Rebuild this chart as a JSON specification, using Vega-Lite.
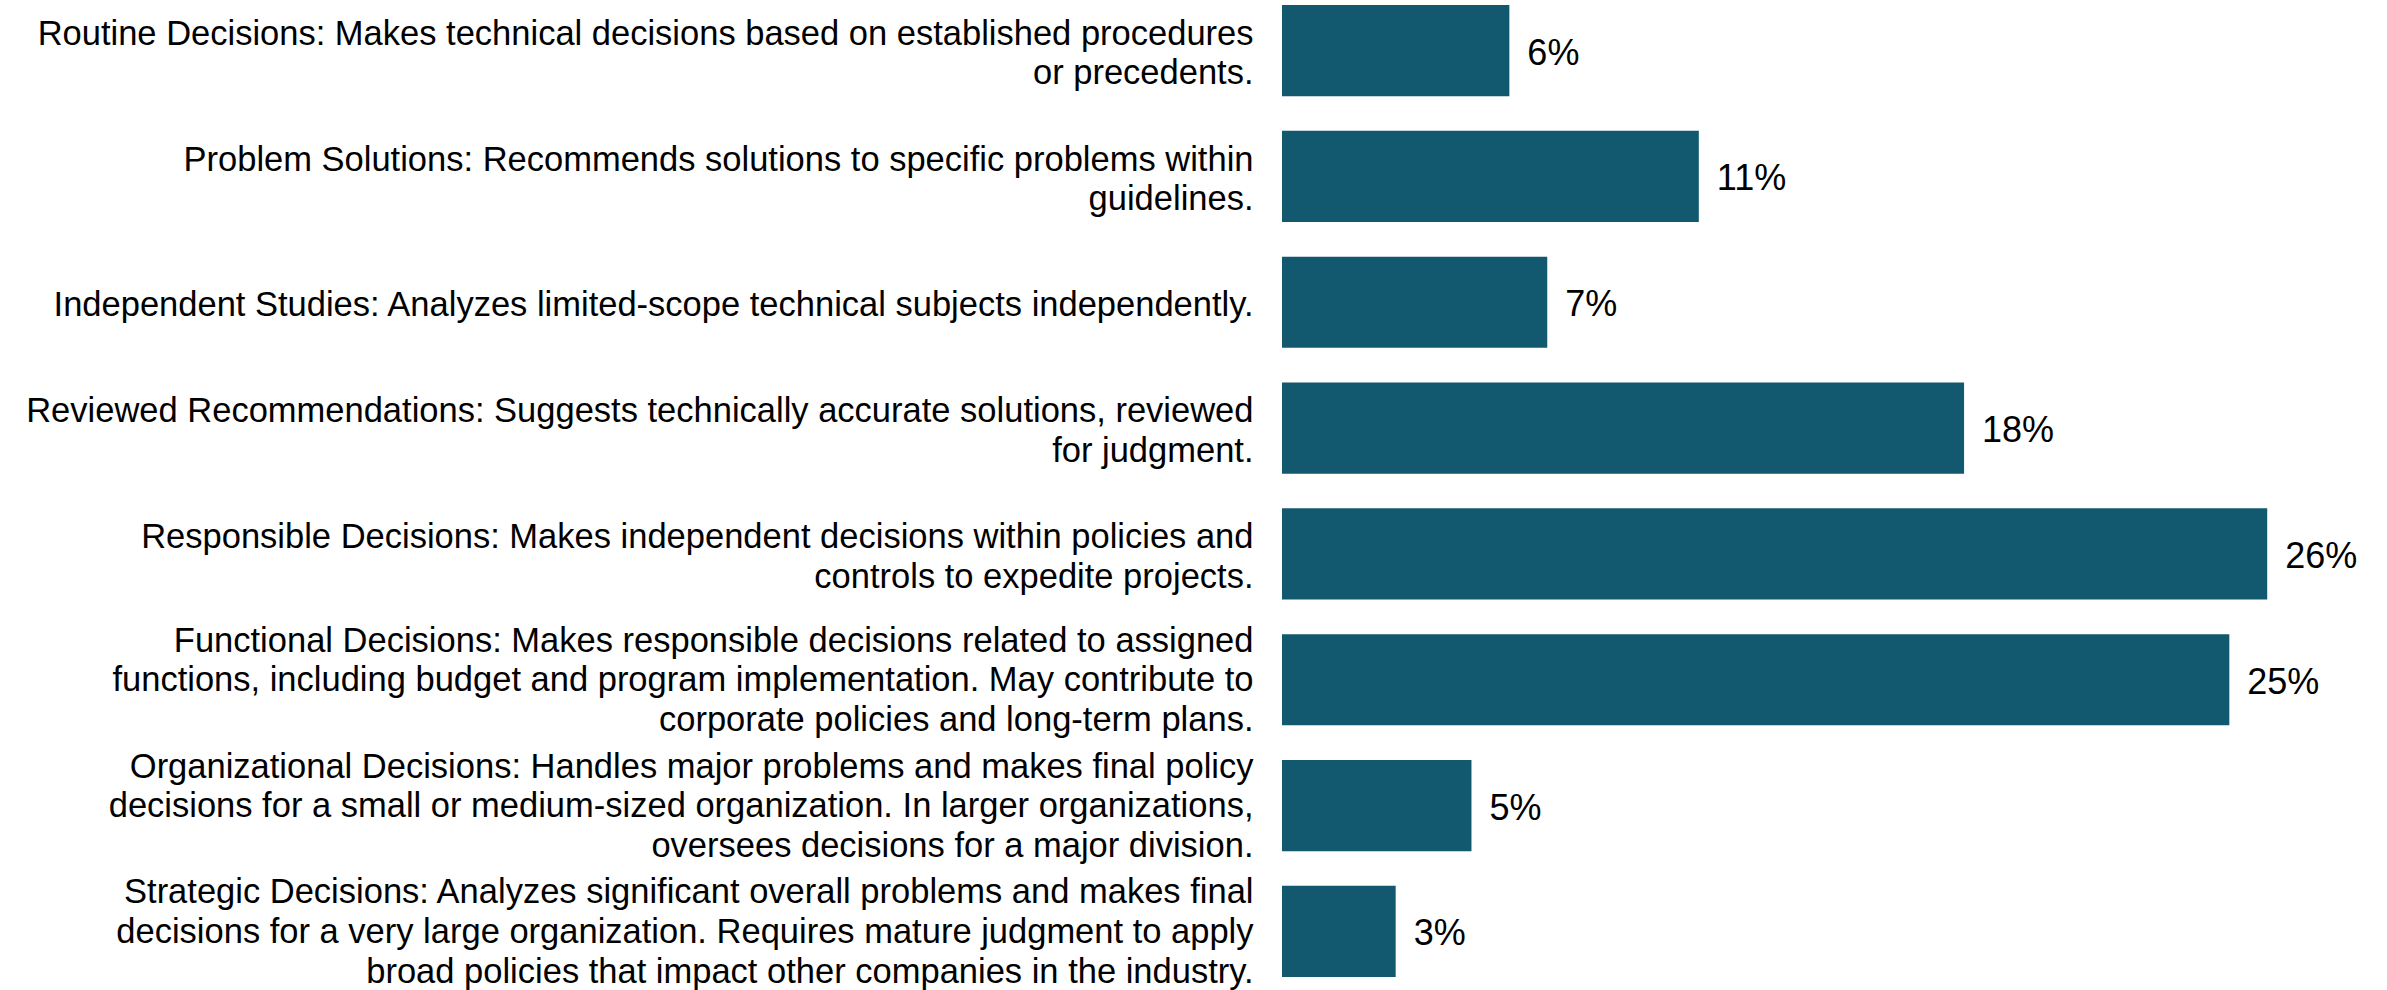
{
  "$schema": "https://vega.github.io/schema/vega-lite/v6.json",
  "autosize": "none",
  "padding": {"left": 1282, "top": 5, "right": 44, "bottom": 13},
  "width": 1061,
  "height": 972,
  "background": "white",
  "config": {"view": {"stroke": null}, "font": "Liberation Sans"},
  "data": {"values": [
    {"label": "Routine Decisions: Makes technical decisions based on established procedures|or precedents.", "pct": 6, "pctText": "6%"},
    {"label": "Problem Solutions: Recommends solutions to specific problems within|guidelines.", "pct": 11, "pctText": "11%"},
    {"label": "Independent Studies: Analyzes limited-scope technical subjects independently.", "pct": 7, "pctText": "7%"},
    {"label": "Reviewed Recommendations: Suggests technically accurate solutions, reviewed |for judgment. ", "pct": 18, "pctText": "18%"},
    {"label": "Responsible Decisions: Makes independent decisions within policies and|controls to expedite projects.", "pct": 26, "pctText": "26%"},
    {"label": "Functional Decisions: Makes responsible decisions related to assigned|functions, including budget and program implementation. May contribute to|corporate policies and long-term plans.", "pct": 25, "pctText": "25%"},
    {"label": "Organizational Decisions: Handles major problems and makes final policy|decisions for a small or medium-sized organization. In larger organizations,|oversees decisions for a major division.", "pct": 5, "pctText": "5%"},
    {"label": "Strategic Decisions: Analyzes significant overall problems and makes final|decisions for a very large organization. Requires mature judgment to apply|broad policies that impact other companies in the industry.", "pct": 3, "pctText": "3%"}
  ]},
  "encoding": {
    "y": {
      "field": "label", "type": "nominal", "sort": null,
      "scale": {"paddingInner": 0.275, "paddingOuter": 0},
      "axis": {
        "title": null, "domain": false, "ticks": false, "grid": false,
        "labelExpr": "split(datum.label, '|')",
        "labelFontSize": 34.5, "labelLineHeight": 39.6, "labelColor": "#000000",
        "labelPadding": 29, "labelLimit": 0, "labelOverlap": false,
        "labelFont": "Liberation Sans",
        "labelOffset": {
          "condition": [
            {"test": "length(split(datum.value, '|')) == 3", "value": -38},
            {"test": "length(split(datum.value, '|')) == 2", "value": -15.8}
          ],
          "value": 4
        }
      }
    },
    "x": {
      "field": "pct", "type": "quantitative",
      "scale": {"domain": [0, 28], "nice": false},
      "axis": null
    }
  },
  "layer": [
    {"mark": {"type": "bar", "color": "#12586F"}},
    {
      "mark": {"type": "text", "align": "left", "baseline": "middle", "dx": 18, "dy": 3, "fontSize": 36, "color": "#000000", "font": "Liberation Sans"},
      "encoding": {"text": {"field": "pctText", "type": "nominal"}}
    }
  ]
}
